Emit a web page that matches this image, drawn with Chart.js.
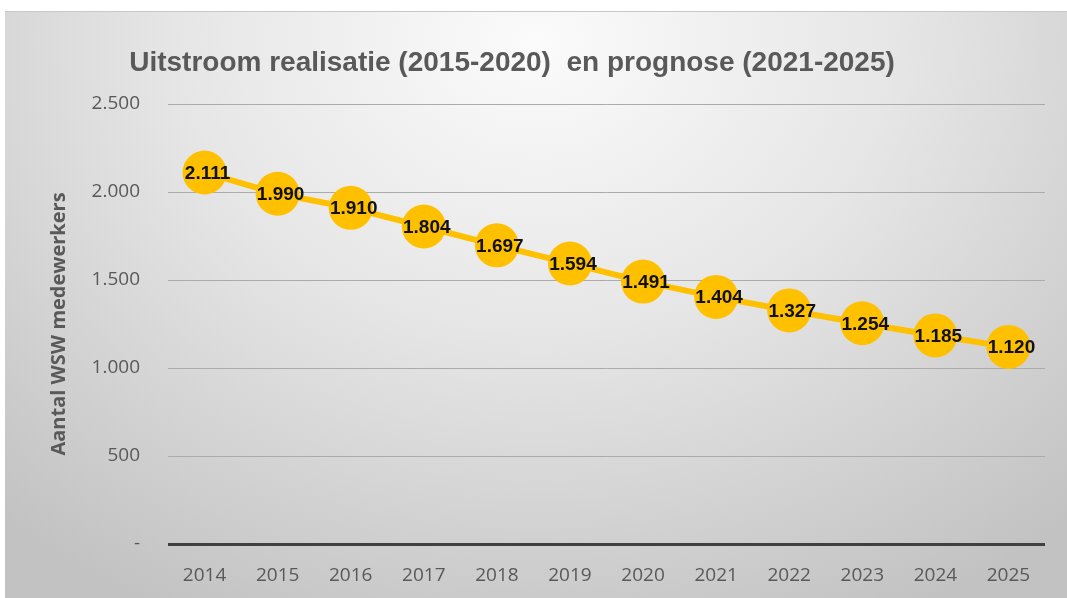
<!DOCTYPE html>
<html>
<head>
<meta charset="utf-8">
<script src="https://cdn.jsdelivr.net/npm/chart.js@4/dist/chart.umd.min.js"></script>
<style>
  html, body { margin: 0; padding: 0; background: #fff; }
  #wrap {
    position: absolute; left: 5px; top: 11px; width: 1062px; height: 587px;
    background: radial-gradient(ellipse 75% 110% at 50% 5%, #fbfbfb 0%, #e6e6e6 45%, #cfcfcf 80%, #c2c2c2 100%);
    border-top: 1px solid #c8c8c8;
  }
</style>
</head>
<body>
<div id="wrap"><canvas id="chart"></canvas></div>
<script>
// data
const years = ["2014", "2015", "2016", "2017", "2018", "2019", "2020", "2021", "2022", "2023", "2024", "2025"];
const uitstroom = [2111, 1990, 1910, 1804, 1697, 1594, 1491, 1404, 1327, 1254, 1185, 1120];
const yTicks = [0, 500, 1000, 1500, 2000, 2500];
const titleText = "Uitstroom realisatie (2015-2020)  en prognose (2021-2025)";

const FONT = "'Liberation Sans', sans-serif";
const TICKFONT = "'Open Sans', sans-serif";
const GRAY = "#595959";

// Dutch thousands separator, 0 shown as dash like Excel accounting
function fmt(n) {
  if (n === 0) return "-";
  return String(n).replace(/\B(?=(\d{3})+(?!\d))/g, ".");
}

// title is drawn by hand so it can sit a bit left of centre like the original
const chartTitle = {
  id: "chartTitle",
  afterDraw(chart) {
    const ctx = chart.ctx;
    ctx.save();
    ctx.font = "bold 28px " + FONT;
    ctx.fillStyle = GRAY;
    ctx.textAlign = "center";
    ctx.textBaseline = "middle";
    ctx.fillText(titleText, 507, 51);
    ctx.restore();
  }
};

// draws value labels centred on the markers
const pointLabels = {
  id: "pointLabels",
  afterDatasetsDraw(chart) {
    const ctx = chart.ctx;
    const meta = chart.getDatasetMeta(0);
    ctx.save();
    ctx.font = "bold 19px " + FONT;
    ctx.fillStyle = "#111";
    ctx.textAlign = "center";
    ctx.textBaseline = "middle";
    meta.data.forEach((pt, i) => {
      ctx.fillText(fmt(chart.data.datasets[0].data[i]), pt.x + 3, pt.y + 1);
    });
    ctx.restore();
  }
};

const ctx = document.getElementById("chart");
new Chart(ctx, {
  type: "line",
  data: {
    labels: years,
    datasets: [{
      data: uitstroom,
      borderColor: "#FFC000",
      backgroundColor: "#FFC000",
      borderWidth: 6,
      pointRadius: 22,
      pointHoverRadius: 22,
      pointBorderWidth: 0,
      pointBackgroundColor: "#FFC000",
      tension: 0
    }]
  },
  options: {
    responsive: true,
    maintainAspectRatio: false,
    animation: false,
    layout: { padding: { left: 42, right: 17, top: 92, bottom: 0 } },
    plugins: {
      legend: { display: false },
      tooltip: { enabled: false },
      title: { display: false }
    },
    scales: {
      x: {
        offset: true,
        grid: { display: false, drawTicks: false },
        border: { display: false },
        ticks: { color: GRAY, font: { family: TICKFONT, size: 19 }, padding: 20 },
        afterFit(scale) { scale.height = 55; }
      },
      y: {
        min: 0,
        max: 2500,
        afterBuildTicks(scale) { scale.ticks = yTicks.map(v => ({ value: v })); },
        grid: {
          drawTicks: false,
          color: ctx => ctx.tick && ctx.tick.value === 0 ? "#404040" : "#ababab",
          lineWidth: ctx => ctx.tick && ctx.tick.value === 0 ? 3 : 1
        },
        border: { display: false },
        ticks: {
          color: GRAY,
          font: { family: TICKFONT, size: 19 },
          padding: 28,
          callback: v => fmt(v)
        },
        title: {
          display: true,
          text: "Aantal WSW medewerkers",
          color: GRAY,
          font: { family: TICKFONT, size: 20, weight: "bold" },
          padding: 0
        },
        afterFit(scale) { scale.width = 121; }
      }
    }
  },
  plugins: [pointLabels, chartTitle]
});
</script>
</body>
</html>
